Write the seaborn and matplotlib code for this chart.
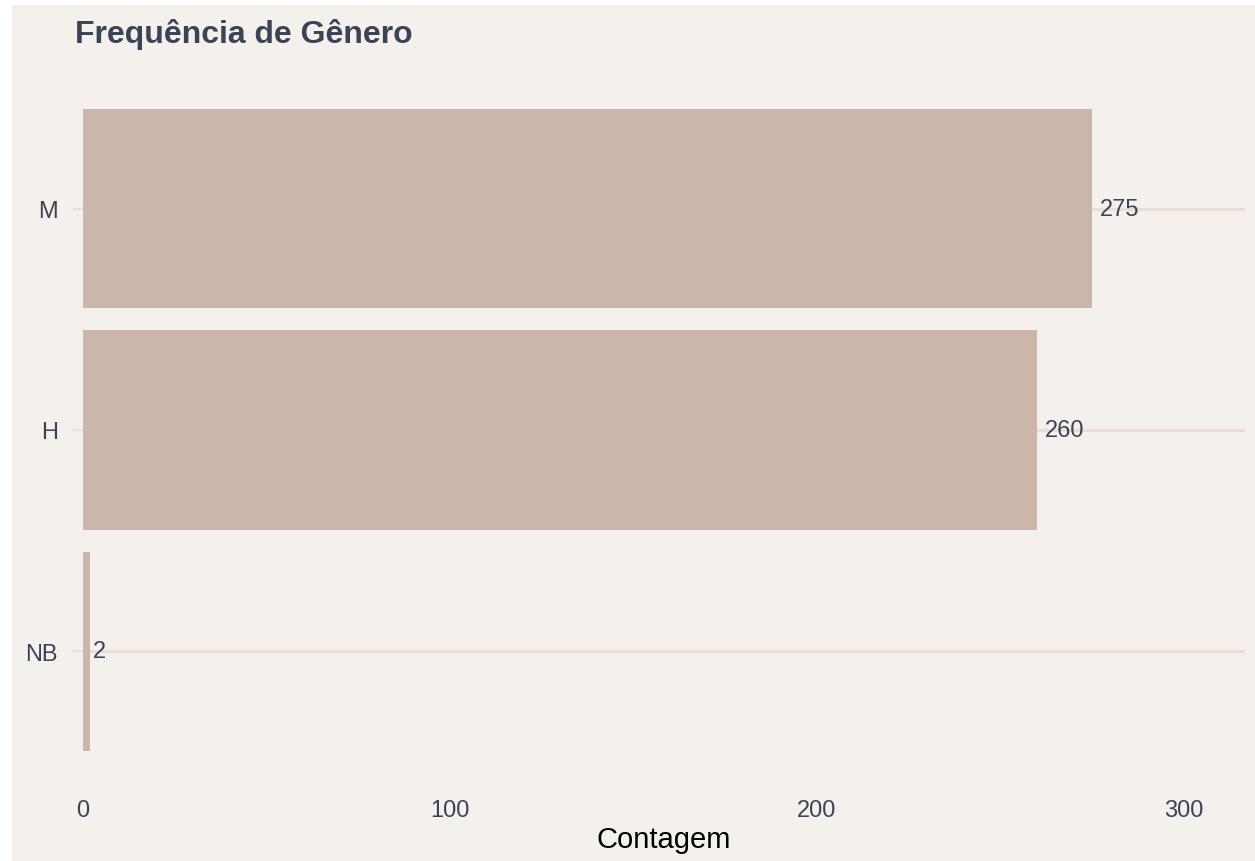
import pandas as pd
import numpy as np
import matplotlib
matplotlib.use("Agg")
import matplotlib.pyplot as plt
import seaborn as sns
from matplotlib.patches import Rectangle

# Data
generos = ["M", "H", "NB"]
contagens = [275, 260, 2]

df = pd.DataFrame({"Genero": generos, "Contagem": contagens})

bg = "#F4F1EC"
bar_color = "#CCB5A9"
grid_color = "#EADFD5"
text_color = "#3B4356"

sns.set_theme(style="white")
plt.rcParams["font.family"] = ["Liberation Sans", "DejaVu Sans"]

fig = plt.figure(figsize=(12.55, 8.62), dpi=100)
fig.patch.set_facecolor("white")
fig.patches.append(Rectangle((12 / 1255, 0), 1, 1 - 6 / 862, transform=fig.transFigure,
                             facecolor=bg, edgecolor="none", zorder=-10))

ax = fig.add_axes([83 / 1255, 1 - 785 / 862, (1245 - 83) / 1255, (785 - 77) / 862])
ax.set_facecolor(bg)

# gridlines on categories
for i in range(len(generos)):
    ax.axhline(i, color=grid_color, lw=2.2, zorder=0)

sns.barplot(data=df, y="Genero", x="Contagem", order=generos, orient="h",
            color=bar_color, saturation=1, width=0.9, linewidth=0, ax=ax, zorder=2)

# labels nudged right by ~20% of their own width (like hjust = -0.2)
for i, v in enumerate(contagens):
    off = 0.2 * len(str(v)) * 0.556 * 17
    ax.annotate(str(v), (v, i), xytext=(off, 0), textcoords="offset points",
                va="center", ha="left", fontsize=17, color=text_color, zorder=3)

ax.set_xlim(0, 316.6)
ax.set_ylim(2.6, -0.6)
ax.set_xticks([0, 100, 200, 300])
for s in ax.spines.values():
    s.set_visible(False)

ax.tick_params(axis="y", length=7.2, width=1.6, color=grid_color, pad=10.8,
               labelsize=17, labelcolor=text_color, left=True)
ax.tick_params(axis="x", length=0, pad=10.5, labelsize=17, labelcolor=text_color)

ax.set_ylabel("")
ax.set_xlabel("Contagem", fontsize=21, color="black", labelpad=3)

fig.text(75 / 1255, 1 - 34 / 862, "Frequência de Gênero", fontsize=23, fontweight="bold",
         color=text_color, ha="left", va="center")

fig.savefig("out.png", dpi=100, facecolor=fig.get_facecolor())
